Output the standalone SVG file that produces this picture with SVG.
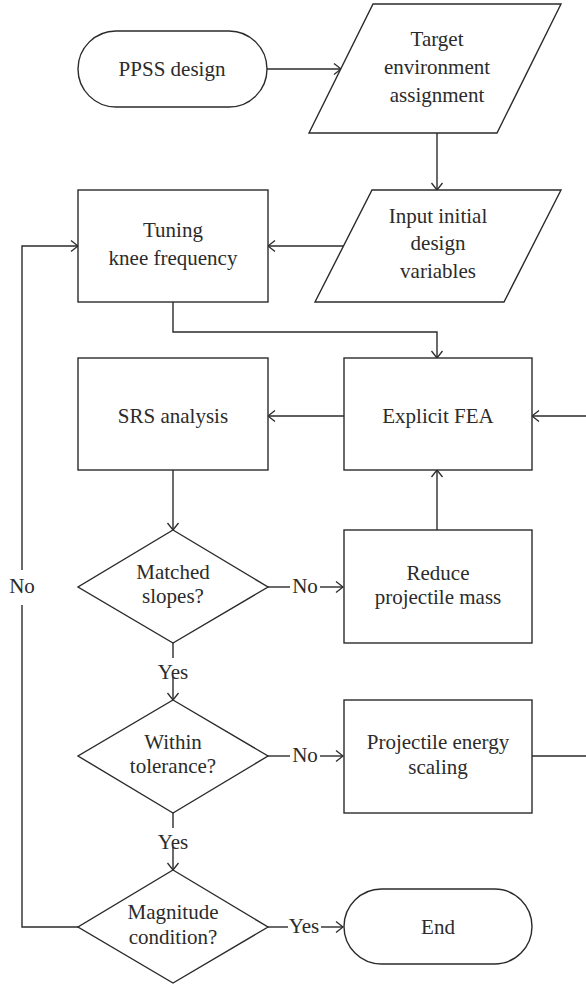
<svg xmlns="http://www.w3.org/2000/svg" width="586" height="987" viewBox="0 0 586 987">
<style>
.s{fill:#fff;stroke:#2b2b2b;stroke-width:1.4}
.c{fill:none;stroke:#2b2b2b;stroke-width:1.4}
text{font-family:"Liberation Serif","Times New Roman",serif;font-size:21px;fill:#2b2b2b;text-anchor:middle}
</style>
<defs>
<marker id="a" viewBox="-8 -7 9 14" markerWidth="9" markerHeight="14" refX="0" refY="0" orient="auto" markerUnits="userSpaceOnUse">
<path d="M-7,-5.5 L0,0 L-7,5.5" fill="none" stroke="#2b2b2b" stroke-width="1.3"/>
</marker>
</defs>
<rect width="586" height="987" fill="#fff"/>
<g id="connectors">
<path class="c" d="M267,69 H341" marker-end="url(#a)"/>
<path class="c" d="M437,133 V190" marker-end="url(#a)"/>
<path class="c" d="M343,246 H268" marker-end="url(#a)"/>
<path class="c" d="M173,302 V332 H437 V358" marker-end="url(#a)"/>
<path class="c" d="M344,416 H268" marker-end="url(#a)"/>
<path class="c" d="M532,756 H600 V416 H532" marker-end="url(#a)"/>
<path class="c" d="M437,530 V470" marker-end="url(#a)"/>
<path class="c" d="M173,470 V530" marker-end="url(#a)"/>
<path class="c" d="M268,587 H290"/>
<path class="c" d="M320,587 H343" marker-end="url(#a)"/>
<text x="305" y="593">No</text>
<path class="c" d="M173,643 V658"/>
<path class="c" d="M173,677 V700" marker-end="url(#a)"/>
<text x="173" y="679">Yes</text>
<path class="c" d="M268,756 H290"/>
<path class="c" d="M320,756 H343" marker-end="url(#a)"/>
<text x="305" y="762">No</text>
<path class="c" d="M173,813 V828"/>
<path class="c" d="M173,847 V870" marker-end="url(#a)"/>
<text x="173" y="849">Yes</text>
<path class="c" d="M268,927 H288"/>
<path class="c" d="M321,927 H343" marker-end="url(#a)"/>
<text x="304" y="933">Yes</text>
<path class="c" d="M78,927 H22 V605"/>
<path class="c" d="M22,570 V246 H78" marker-end="url(#a)"/>
<text x="22" y="593">No</text>
</g>
<g id="ppss">
<rect class="s" x="78" y="31" width="189" height="76" rx="38"/>
<text x="172" y="76">PPSS design</text>
</g>
<g id="target">
<polygon class="s" points="373,4 561,4 497,133 309,133"/>
<text x="437" y="46">Target</text>
<text x="437" y="74">environment</text>
<text x="437" y="102">assignment</text>
</g>
<g id="tuning">
<rect class="s" x="78" y="190" width="190" height="112"/>
<text x="173" y="237">Tuning</text>
<text x="173" y="265">knee frequency</text>
</g>
<g id="input">
<polygon class="s" points="372,190 561,190 504,302 315,302"/>
<text x="438" y="223">Input initial</text>
<text x="438" y="250">design</text>
<text x="438" y="278">variables</text>
</g>
<g id="srs">
<rect class="s" x="78" y="358" width="190" height="112"/>
<text x="173" y="423">SRS analysis</text>
</g>
<g id="fea">
<rect class="s" x="344" y="358" width="188" height="112"/>
<text x="438" y="423">Explicit FEA</text>
</g>
<g id="matched">
<polygon class="s" points="173,530 268,587 173,643 78,587"/>
<text x="173" y="579">Matched</text>
<text x="173" y="603">slopes?</text>
</g>
<g id="reduce">
<rect class="s" x="344" y="530" width="188" height="113"/>
<text x="438" y="580">Reduce</text>
<text x="438" y="604">projectile mass</text>
</g>
<g id="within">
<polygon class="s" points="173,700 268,756 173,813 78,756"/>
<text x="173" y="749">Within</text>
<text x="173" y="773">tolerance?</text>
</g>
<g id="energy">
<rect class="s" x="344" y="700" width="188" height="113"/>
<text x="438" y="749">Projectile energy</text>
<text x="438" y="774">scaling</text>
</g>
<g id="magnitude">
<polygon class="s" points="173,870 268,927 173,983 78,927"/>
<text x="173" y="919">Magnitude</text>
<text x="173" y="944">condition?</text>
</g>
<g id="end">
<rect class="s" x="344" y="889" width="188" height="75" rx="37.5"/>
<text x="438" y="934">End</text>
</g>
</svg>
